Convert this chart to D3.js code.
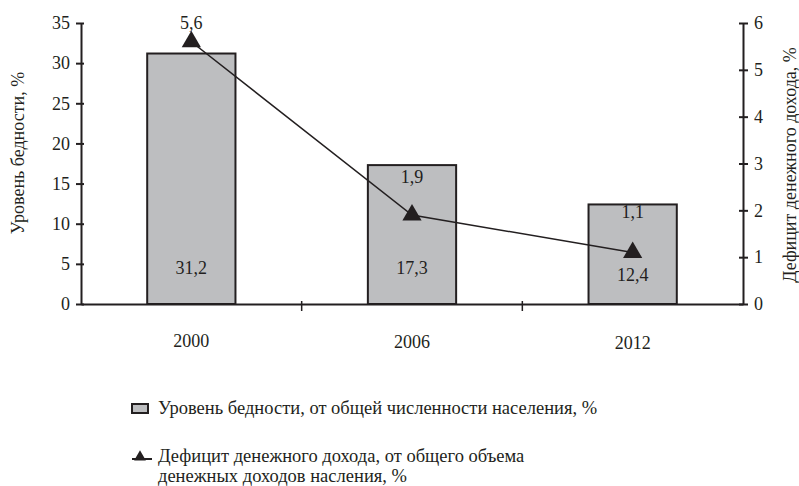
<!DOCTYPE html>
<html>
<head>
<meta charset="utf-8">
<script src="https://cdn.jsdelivr.net/npm/d3@7"></script>
<style>
  body { margin: 0; background: #fff; }
  svg text { font-family: "Liberation Serif", "Times New Roman", serif; fill: #231f20; }
</style>
</head>
<body>
<div id="chart"></div>
<script>
// data
var years = ["2000", "2006", "2012"];
var povertyRate = [31.2, 17.3, 12.4];      // bars, left axis
var incomeDeficit = [5.6, 1.9, 1.1];       // line, right axis
var leftTicks = [0, 5, 10, 15, 20, 25, 30, 35];
var rightTicks = [0, 1, 2, 3, 4, 5, 6];
var legendLabels = [
    "Уровень бедности, от общей численности населения, %",
    ["Дефицит денежного дохода, от общего объема", "денежных доходов насления, %"]
];

var width = 799, height = 486;
var margin = { left: 81, right: 56, top: 23, bottom: 182 };
var innerW = width - margin.left - margin.right;
var innerH = height - margin.top - margin.bottom;
var ink = "#231f20";
var fmt = function (v) { return String(v).replace(".", ","); };

var svg = d3.select("#chart").append("svg")
    .attr("width", width)
    .attr("height", height);
var g = svg.append("g")
    .attr("transform", "translate(" + margin.left + "," + margin.top + ")");

var x = d3.scaleBand().domain(years).range([0, innerW]).padding(0);
var yLeft = d3.scaleLinear().domain([0, 35]).range([innerH, 0]);
var yRight = d3.scaleLinear().domain([0, 6]).range([innerH, 0]);
var barW = x.bandwidth() * 0.4;

// bars
g.selectAll("rect.bar")
    .data(povertyRate)
    .enter().append("rect")
    .attr("class", "bar")
    .attr("x", function (d, i) { return x(years[i]) + x.bandwidth() / 2 - barW / 2; })
    .attr("y", function (d) { return yLeft(d); })
    .attr("width", barW)
    .attr("height", function (d) { return innerH - yLeft(d); })
    .attr("fill", "#bdbec0")
    .attr("stroke", ink)
    .attr("stroke-width", 2);

// bar value labels, near the bottom of each bar
g.selectAll("text.barval")
    .data(povertyRate)
    .enter().append("text")
    .attr("class", "barval")
    .attr("x", function (d, i) { return x(years[i]) + x.bandwidth() / 2; })
    .attr("y", function (d, i) { return yLeft(4.2) + (i === 2 ? 7 : 0); })
    .attr("text-anchor", "middle")
    .attr("dominant-baseline", "middle")
    .text(fmt);

// x baseline + category boundary ticks
var xAxis = d3.axisBottom(x).tickSize(0).tickFormat("");
g.append("g").attr("transform", "translate(0," + innerH + ")").call(xAxis)
    .select(".domain").attr("stroke", ink).attr("stroke-width", 2);
g.selectAll("line.sep")
    .data(years.slice(1))
    .enter().append("line")
    .attr("x1", function (d) { return x(d); })
    .attr("x2", function (d) { return x(d); })
    .attr("y1", innerH - 3)
    .attr("y2", innerH + 7)
    .attr("stroke", ink)
    .attr("stroke-width", 1.5);

// year labels
g.selectAll("text.year")
    .data(years)
    .enter().append("text")
    .attr("class", "year")
    .attr("x", function (d) { return x(d) + x.bandwidth() / 2; })
    .attr("y", function (d, i) { return innerH + 39 + i; })
    .attr("text-anchor", "middle")
    .attr("dominant-baseline", "middle")
    .text(function (d) { return d; });

// left axis
var leftAxis = d3.axisLeft(yLeft).tickValues(leftTicks).tickSizeInner(5).tickSizeOuter(0).tickPadding(6);
var la = g.append("g").call(leftAxis);
la.selectAll("line").attr("stroke", ink).attr("stroke-width", 2).attr("x2", -5).attr("x1", 3);
la.select(".domain").attr("stroke", ink).attr("stroke-width", 2);
la.selectAll("text").attr("x", -11);

// right axis
var rightAxis = d3.axisRight(yRight).tickValues(rightTicks).tickFormat(d3.format("d"))
    .tickSizeInner(5).tickSizeOuter(0).tickPadding(6);
var ra = g.append("g").attr("transform", "translate(" + innerW + ",0)").call(rightAxis);
ra.selectAll("line").attr("stroke", ink).attr("stroke-width", 2).attr("x1", -4).attr("x2", 5);
ra.select(".domain").attr("stroke", ink).attr("stroke-width", 2);
ra.selectAll("text").attr("x", 11);

// axis titles
svg.append("text")
    .attr("transform", "translate(20,153) rotate(-90)")
    .attr("text-anchor", "middle")
    .attr("dominant-baseline", "middle")
    .text("Уровень бедности, %");
svg.append("text")
    .attr("transform", "translate(792,165) rotate(-90)")
    .attr("text-anchor", "middle")
    .attr("dominant-baseline", "middle")
    .text("Дефицит денежного дохода, %");

// line series
var line = d3.line()
    .x(function (d, i) { return x(years[i]) + x.bandwidth() / 2; })
    .y(function (d) { return yRight(d); });
g.append("path")
    .datum(incomeDeficit)
    .attr("d", line)
    .attr("fill", "none")
    .attr("stroke", ink)
    .attr("stroke-width", 1.5);

var tri = d3.symbol().type(d3.symbolTriangle).size(160);
g.selectAll("path.pt")
    .data(incomeDeficit)
    .enter().append("path")
    .attr("class", "pt")
    .attr("d", tri)
    .attr("transform", function (d, i) {
        return "translate(" + (x(years[i]) + x.bandwidth() / 2) + "," + yRight(d) + ")";
    })
    .attr("fill", ink);

g.selectAll("text.lineval")
    .data(incomeDeficit)
    .enter().append("text")
    .attr("class", "lineval")
    .attr("x", function (d, i) { return x(years[i]) + x.bandwidth() / 2; })
    .attr("y", function (d, i) { return yRight(d) - [17, 36, 39][i]; })
    .attr("text-anchor", "middle")
    .attr("dominant-baseline", "middle")
    .text(fmt);

// legend
var lg = svg.append("g").attr("transform", "translate(132,0)");
lg.append("rect")
    .attr("x", 0).attr("y", 404)
    .attr("width", 16).attr("height", 9)
    .attr("fill", "#bdbec0").attr("stroke", ink).attr("stroke-width", 2);
lg.append("text")
    .attr("class", "leg")
    .attr("x", 26).attr("y", 410)
    .attr("dominant-baseline", "middle")
    .text(legendLabels[0]);
lg.append("line")
    .attr("x1", 0).attr("x2", 20).attr("y1", 459).attr("y2", 459)
    .attr("stroke", ink).attr("stroke-width", 2);
lg.append("path")
    .attr("d", d3.symbol().type(d3.symbolTriangle).size(60))
    .attr("transform", "translate(8,457)")
    .attr("fill", ink);
lg.selectAll("text.l2")
    .data(legendLabels[1])
    .enter().append("text")
    .attr("class", "leg")
    .attr("x", 26)
    .attr("y", function (d, i) { return 458 + i * 20; })
    .attr("dominant-baseline", "middle")
    .text(function (d) { return d; });

// type: serif everywhere, inline so it wins over the axis defaults
svg.selectAll("text")
    .style("font-family", "'Liberation Serif'")
    .style("font-size", "18px")
    .style("fill", ink);
svg.selectAll("text.leg").style("font-size", "18.5px");
</script>
</body>
</html>
